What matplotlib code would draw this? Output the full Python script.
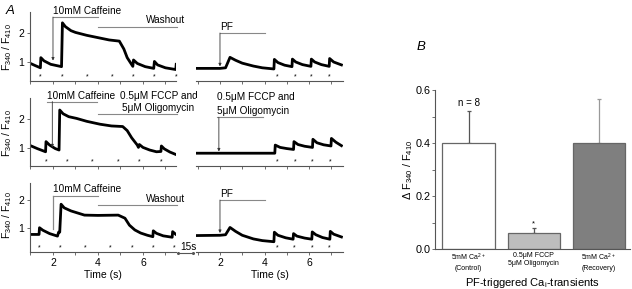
import matplotlib
matplotlib.use("Agg")
import matplotlib.pyplot as plt
import numpy as np

plt.rcParams['font.family'] = ['Liberation Sans', 'DejaVu Sans']
plt.rcParams['mathtext.fontset'] = 'custom'
plt.rcParams['mathtext.rm'] = 'Liberation Sans'
plt.rcParams['mathtext.it'] = 'Liberation Sans:italic'

# ---------------- data: traces (time s, F340/F410) ----------------
r1L_t = [1.0, 1.2, 1.44, 1.46, 1.6, 1.9, 2.38, 2.42, 2.55, 2.8, 3.0, 3.5, 4.0, 4.5, 4.95, 5.15, 5.3, 5.55, 5.58, 5.75, 6.1, 6.48, 6.51, 6.65, 7.0, 7.46, 7.48]
r1L_v = [0.95, 0.88, 0.80, 1.15, 1.04, 0.92, 0.84, 2.35, 2.22, 2.08, 2.02, 1.92, 1.84, 1.76, 1.72, 1.45, 1.15, 0.85, 1.07, 0.95, 0.84, 0.78, 1.02, 0.9, 0.8, 0.74, 0.92]
r1R_t = [0.92, 2.0, 2.25, 2.45, 2.7, 3.0, 3.5, 3.9, 4.42, 4.44, 4.6, 4.9, 5.23, 5.25, 5.4, 5.7, 6.08, 6.1, 6.25, 6.55, 6.9, 6.92, 7.1, 7.45]
r1R_v = [0.78, 0.78, 0.80, 1.16, 1.06, 0.96, 0.86, 0.80, 0.76, 1.09, 0.98, 0.89, 0.84, 1.1, 1.0, 0.91, 0.85, 1.1, 1.0, 0.91, 0.85, 1.12, 1.0, 0.9]
r2L_t = [1.0, 1.3, 1.67, 1.69, 1.85, 2.1, 2.27, 2.3, 2.45, 2.7, 3.05, 3.5, 4.09, 4.6, 5.1, 5.3, 5.5, 5.75, 5.8, 5.84, 6.0, 6.3, 6.6, 6.8, 6.82, 6.95, 7.2, 7.45]
r2L_v = [1.08, 0.98, 0.87, 1.22, 1.1, 0.98, 0.93, 2.31, 2.18, 2.08, 2.02, 1.92, 1.82, 1.76, 1.74, 1.6, 1.35, 1.1, 1.02, 1.12, 1.02, 0.93, 0.87, 0.88, 1.07, 0.97, 0.86, 0.78]
r2R_t = [0.92, 4.46, 4.48, 4.7, 5.0, 5.3, 5.32, 5.5, 5.8, 6.15, 6.17, 6.35, 6.65, 6.98, 7.0, 7.2, 7.45]
r2R_v = [0.82, 0.82, 1.10, 1.02, 0.98, 0.95, 1.22, 1.12, 1.06, 1.02, 1.30, 1.18, 1.11, 1.07, 1.33, 1.2, 1.08]
r3L_t = [1.0, 1.38, 1.40, 1.55, 1.85, 2.2, 2.25, 2.3, 2.36, 2.5, 2.8, 3.4, 4.0, 4.9, 5.2, 5.4, 5.64, 5.9, 6.2, 6.44, 6.46, 6.6, 6.9, 7.3, 7.32, 7.45]
r3L_v = [0.77, 0.77, 1.01, 0.92, 0.8, 0.71, 0.85, 0.85, 1.85, 1.72, 1.61, 1.46, 1.45, 1.46, 1.35, 1.1, 0.93, 0.82, 0.74, 0.69, 0.9, 0.81, 0.72, 0.67, 0.87, 0.78]
r3R_t = [0.92, 2.0, 2.25, 2.45, 2.7, 3.0, 3.5, 3.9, 4.42, 4.44, 4.6, 4.95, 5.28, 5.3, 5.45, 5.8, 6.12, 6.14, 6.3, 6.6, 6.93, 6.95, 7.1, 7.45]
r3R_v = [0.73, 0.74, 0.76, 1.02, 0.88, 0.74, 0.61, 0.55, 0.51, 0.85, 0.74, 0.65, 0.6, 0.80, 0.71, 0.64, 0.6, 0.86, 0.76, 0.66, 0.6, 0.88, 0.78, 0.68]

# stimulus marks (asterisks)
r1L_stars = [1.45, 2.39, 3.52, 4.65, 5.57, 6.50, 7.48]
r1R_stars = [4.59, 5.36, 6.11, 6.89]
r2L_stars = [1.68, 2.65, 3.76, 4.90, 5.84, 6.80]
r2R_stars = [4.59, 5.36, 6.14, 6.93]
r3L_stars = [1.39, 2.34, 3.42, 4.53, 5.52, 6.46, 7.38]
r3R_stars = [4.57, 5.35, 6.14, 6.92]

# bar panel
bar_labels = ['5mM Ca$^{2+}$\n(Control)', '0.5\u03bcM FCCP\n5\u03bcM Oligomycin', '5mM Ca$^{2+}$\n(Recovery)']
bar_values = [0.40, 0.062, 0.40]
bar_errors = [0.122, 0.018, 0.165]

# ---------------- layout ----------------
W, H = 632, 289
fig = plt.figure(figsize=(W / 100, H / 100), dpi=100)

def ax_px(x0, x1, ytop, ybot):
    return fig.add_axes([x0 / W, (H - ybot) / H, (x1 - x0) / W, (ybot - ytop) / H])

GRAY = '#555555'
rows = [
    dict(top=12, bot=81, ylim=(0.345, 2.724)),
    dict(top=98, bot=166, ylim=(0.379, 2.724)),
    dict(top=183, bot=252, ylim=(0.143, 2.607)),
]
traces = [((r1L_t, r1L_v), (r1R_t, r1R_v)), ((r2L_t, r2L_v), (r2R_t, r2R_v)), ((r3L_t, r3L_v), (r3R_t, r3R_v))]
stars = [(r1L_stars, r1R_stars), (r2L_stars, r2R_stars), (r3L_stars, r3R_stars)]

axesL, axesR = [], []
for i, rw in enumerate(rows):
    aL = ax_px(30, 176, rw['top'], rw['bot'])
    aR = ax_px(196, 343, rw['top'], rw['bot'])
    for a, (tt, vv), st in zip((aL, aR), traces[i], stars[i]):
        a.plot(tt, vv, color='black', lw=2.0, solid_joinstyle='round')
        a.set_ylim(*rw['ylim'])
        for s in st:
            a.text(s, 0.06, '*', transform=a.get_xaxis_transform(), fontsize=5,
                   ha='center', va='center', color='black')
        for sp in ('top', 'right'):
            a.spines[sp].set_visible(False)
        a.spines['bottom'].set_color(GRAY)
        a.spines['left'].set_color(GRAY)
        a.spines['bottom'].set_linewidth(0.8)
        a.spines['left'].set_linewidth(0.8)
        a.set_xticks([1, 2, 3, 4, 5, 6, 7])
        a.tick_params(axis='both', direction='out', length=2.5, width=0.6, color=GRAY,
                      labelsize=7.5, pad=1.5)
        if i < 2:
            a.set_xticklabels([])
        else:
            a.set_xticklabels(['', '2', '', '4', '', '6', ''])
    aL.set_xlim(0.978, 7.47)
    aR.set_xlim(0.924, 7.52)
    aL.set_yticks([1, 2])
    aR.spines['left'].set_visible(False)
    aR.set_yticks([])
    axesL.append(aL)
    axesR.append(aR)
    fig.text(7 / W, 1 - [47, 133, 215][i] / H, 'F$_{340}$ / F$_{410}$', rotation=90,
             ha='center', va='center', fontsize=7.5)

for a in axesL[2:] + axesR[2:]:
    a.set_xlabel('Time (s)', fontsize=7.5, labelpad=2)

TXT = 7.2
BARC = '#888888'

def hbar(a, t0, t1, v):
    a.plot([t0, t1], [v, v], color=BARC, lw=0.8, clip_on=False)

def arrow(a, t, v0, v1, color='black'):
    a.annotate('', xy=(t, v1), xytext=(t, v0),
               arrowprops=dict(arrowstyle='-|>', color=color, lw=0.6, mutation_scale=4,
                               shrinkA=0, shrinkB=0), annotation_clip=False)

# Row 1 left
a = axesL[0]
hbar(a, 2.0, 4.0, 2.55)
a.text(2.0, 2.6, '10mM Caffeine', fontsize=TXT, ha='left', va='bottom')
hbar(a, 4.0, 7.5, 2.21)
a.text(7.9, 2.26, 'Washout', fontsize=TXT, ha='right', va='bottom')
arrow(a, 2.0, 2.55, 1.05, '#333333')
# Row 1 right
a = axesR[0]
hbar(a, 2.0, 4.0, 2.0)
a.text(2.0, 2.04, 'PF', fontsize=TXT, ha='left', va='bottom')
arrow(a, 2.0, 2.0, 0.85, '#333333')
# Row 2 left
a = axesL[1]
hbar(a, 1.72, 3.94, 2.6)
a.text(1.72, 2.62, '10mM Caffeine', fontsize=TXT, ha='left', va='bottom')
arrow(a, 1.97, 2.6, 1.02, '#333333')
a.text(4.98, 2.62, '0.5\u03bcM FCCP and', fontsize=TXT, ha='left', va='bottom')
a.text(5.05, 2.2, '5\u03bcM Oligomycin', fontsize=TXT, ha='left', va='bottom')
hbar(a, 4.0, 7.5, 2.16)
# Row 2 right
a = axesR[1]
a.text(1.85, 2.6, '0.5\u03bcM FCCP and', fontsize=TXT, ha='left', va='bottom')
a.text(1.85, 2.12, '5\u03bcM Oligomycin', fontsize=TXT, ha='left', va='bottom')
hbar(a, 1.85, 3.91, 2.06)
arrow(a, 1.95, 2.06, 0.88, '#333333')
# Row 3 left
a = axesL[2]
hbar(a, 2.0, 4.0, 2.15)
a.text(2.0, 2.2, '10mM Caffeine', fontsize=TXT, ha='left', va='bottom')
a.plot([2.0, 2.0], [2.15, 0.95], color=BARC, lw=0.9)
hbar(a, 4.0, 7.5, 1.82)
a.text(7.9, 1.87, 'Washout', fontsize=TXT, ha='right', va='bottom')
# Row 3 right
a = axesR[2]
hbar(a, 2.0, 4.0, 2.0)
a.text(2.0, 2.04, 'PF', fontsize=TXT, ha='left', va='bottom')
arrow(a, 2.0, 2.0, 0.82, '#333333')

# 15s break marker
fig.add_artist(plt.Line2D([178 / W, 193 / W], [1 - 252.5 / H, 1 - 252.5 / H], color=GRAY, lw=0.8,
                          marker='o', markersize=1.2))
fig.text(188 / W, 1 - 247.5 / H, '15s', fontsize=7.2, ha='center', va='center')

# Panel letters
fig.text(10 / W, 1 - 11 / H, 'A', fontsize=9.5, style='italic', ha='center', va='center')
fig.text(421 / W, 1 - 47 / H, 'B', fontsize=9.5, style='italic', ha='center', va='center')

# ---------------- bar panel ----------------
ab = ax_px(435, 630, 90, 249)
xpos = np.arange(len(bar_values))
faces = ['white', '#bdbdbd', '#7f7f7f']
ecols = ['#555555', '#555555', '#999999']
ab.bar(xpos, bar_values, width=0.8, color=faces, edgecolor='#666666', linewidth=0.9, zorder=2)
for x, v, e, ec in zip(xpos, bar_values, bar_errors, ecols):
    ab.errorbar([x], [v], yerr=[[0], [e]], fmt='none', ecolor=ec, elinewidth=0.9,
                capsize=1.5, capthick=0.9, zorder=1)
ab.set_xlim(-0.515, 2.48)
ab.set_ylim(0, 0.6)
ab.set_yticks([0.0, 0.2, 0.4, 0.6])
ab.set_yticklabels(['0.0', '0.2', '0.4', '0.6'])
ab.set_yticks([0.1, 0.3, 0.5], minor=True)
ab.set_xticks(xpos)
ab.set_xticklabels(bar_labels, fontsize=5, linespacing=1.3)
ab.tick_params(axis='x', length=0, pad=2)
ab.tick_params(axis='y', which='both', direction='out', length=2.5, width=0.6, color=GRAY,
               labelsize=7.8, pad=1)
for sp in ('top', 'right'):
    ab.spines[sp].set_visible(False)
for sp in ('left', 'bottom'):
    ab.spines[sp].set_color(GRAY)
    ab.spines[sp].set_linewidth(0.8)
ab.text(0, 0.55, 'n = 8', fontsize=7, ha='center', va='center')
ab.text(1, 0.096, '*', fontsize=5.5, ha='center', va='center')
ab.set_xlabel('PF-triggered Ca$_{\\mathrm{i}}$-transients', fontsize=8, labelpad=3)
fig.text(408 / W, 1 - 170 / H, '\u0394 F$_{340}$ / F$_{410}$', rotation=90,
         ha='center', va='center', fontsize=7.8)

fig.savefig('out.png', dpi=100)
